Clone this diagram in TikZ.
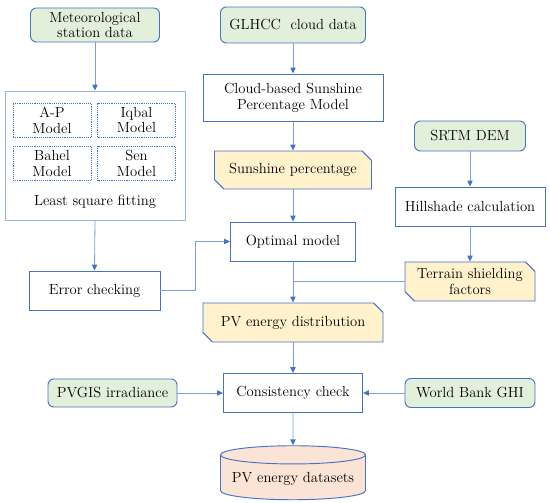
\documentclass[tikz,border=0pt]{standalone}
\usepackage{xcolor}
\usepackage{tikz}
\usetikzlibrary{calc,shapes.misc,shapes.geometric,arrows.meta}

\definecolor{boxblue}{HTML}{4472C4}
\definecolor{lineblue}{HTML}{7C9FDC}
\definecolor{fitblue}{HTML}{8DB8E2}
\definecolor{datagreen}{HTML}{E2EFDA}
\definecolor{resyellow}{HTML}{FFF2CC}
\definecolor{storepink}{HTML}{FBE3D6}

\begin{document}
\begin{tikzpicture}[>={Triangle[length=5pt,width=4.5pt,color=boxblue]},
			font=\fontsize{12.5}{13.6}\selectfont,
			data/.style={rectangle,rounded corners=5pt,draw=boxblue,fill=datagreen,line width=0.8pt,align=center,inner sep=1pt},
			proc/.style={rectangle,draw=boxblue,fill=white,line width=0.8pt,align=center,inner sep=1pt},
			result/.style={chamfered rectangle,chamfered rectangle corners={north east,south west},
				chamfered rectangle xsep=4pt,chamfered rectangle ysep=4pt,
				draw=boxblue,fill=resyellow,line width=0.8pt,align=center,inner sep=1pt},
			model/.style={rectangle,draw=boxblue,densely dotted,line width=0.6pt,align=center,inner sep=0.5pt,
				minimum width=2.34cm,minimum height=1.02cm},
			store/.style={cylinder,shape border rotate=90,aspect=0.14,draw=boxblue,fill=storepink,line width=0.8pt,align=center},
			arr/.style={->,draw=lineblue,line width=0.7pt},
			link/.style={draw=lineblue,line width=0.7pt},
			]
			\useasboundingbox (0,0) rectangle (16.5,15.09);
			
			% input data
			\node[data,minimum width=3.87cm,minimum height=1.02cm] (met) at (2.85,14.34) {Meteorological\\station data};
			\node[data,minimum width=4.35cm,minimum height=1.08cm] (glhcc) at (8.79,14.34) {GLHCC\ \ cloud data};
			\node[data,minimum width=3.33cm,minimum height=0.9cm] (srtm) at (14.1,11.01) {SRTM DEM};
			\node[data,minimum width=3.87cm,minimum height=0.84cm] (pvgis) at (3.375,3.3) {PVGIS irradiance};
			\node[data,minimum width=3.9cm,minimum height=0.87cm] (wb) at (14.1,3.3) {World Bank GHI};
			
			% fitting block
			\node[draw=fitblue,line width=0.8pt,minimum width=5.4cm,minimum height=3.87cm] (fit) at (2.85,10.425) {};
			\node[model] (ap) at (1.56,11.49) {A-P\\Model};
			\node[model] (iqbal) at (4.095,11.49) {Iqbal\\Model};
			\node[model] (bahel) at (1.56,10.185) {Bahel\\Model};
			\node[model] (sen) at (4.095,10.185) {Sen\\Model};
			\node (lsf) at (2.85,9.03) {Least square fitting};
			
			% processing
			\node[proc,minimum width=5.4cm,minimum height=1.41cm] (cloud) at (8.79,12.165) {Cloud-based Sunshine\\Percentage Model};
			\node[proc,minimum width=3.75cm,minimum height=1.17cm] (opt) at (8.79,7.845) {Optimal model};
			\node[proc,minimum width=4.5cm,minimum height=1.17cm] (hill) at (14.1,8.895) {Hillshade calculation};
			\node[proc,minimum width=3.93cm,minimum height=1.17cm] (err) at (2.835,6.375) {Error checking};
			\node[proc,minimum width=4.17cm,minimum height=1.17cm] (cons) at (8.79,3.3) {Consistency check};
			
			% results
			\node[result,minimum width=4.71cm,minimum height=1.14cm] (sun) at (8.79,9.99) {Sunshine percentage};
			\node[result,minimum width=3.9cm,minimum height=1.17cm] (ter) at (14.1,6.645) {Terrain shielding\\factors};
			\node[result,minimum width=5.4cm,minimum height=1.17cm] (pvd) at (8.79,5.415) {PV energy distribution};
			\node[store,minimum width=4.35cm,minimum height=1.62cm] (pvds) at (8.79,0.72) {PV energy datasets};
			
			% connectors
			\draw[arr] (met.south) -- (fit.north);
			\draw[arr] (fit.south) -- (err.north);
			\draw[arr] (err.east) -- ++(1.05,0) |- (opt.west);
			\draw[arr] (glhcc.south) -- (cloud.north);
			\draw[arr] (cloud.south) -- (sun.north);
			\draw[arr] (sun.south) -- (opt.north);
			\draw[arr] (srtm.south) -- (hill.north);
			\draw[arr] (hill.south) -- (ter.north);
			\draw[link] (ter.west) -- (ter.west -| opt.south);
			\draw[arr] (opt.south) -- (pvd.north);
			\draw[arr] (pvd.south) -- (cons.north);
			\draw[arr] (pvgis.east) -- (cons.west);
			\draw[arr] (wb.west) -- (cons.east);
			\draw[arr] (cons.south) -- (pvds.north);
		\end{tikzpicture}
\end{document}
